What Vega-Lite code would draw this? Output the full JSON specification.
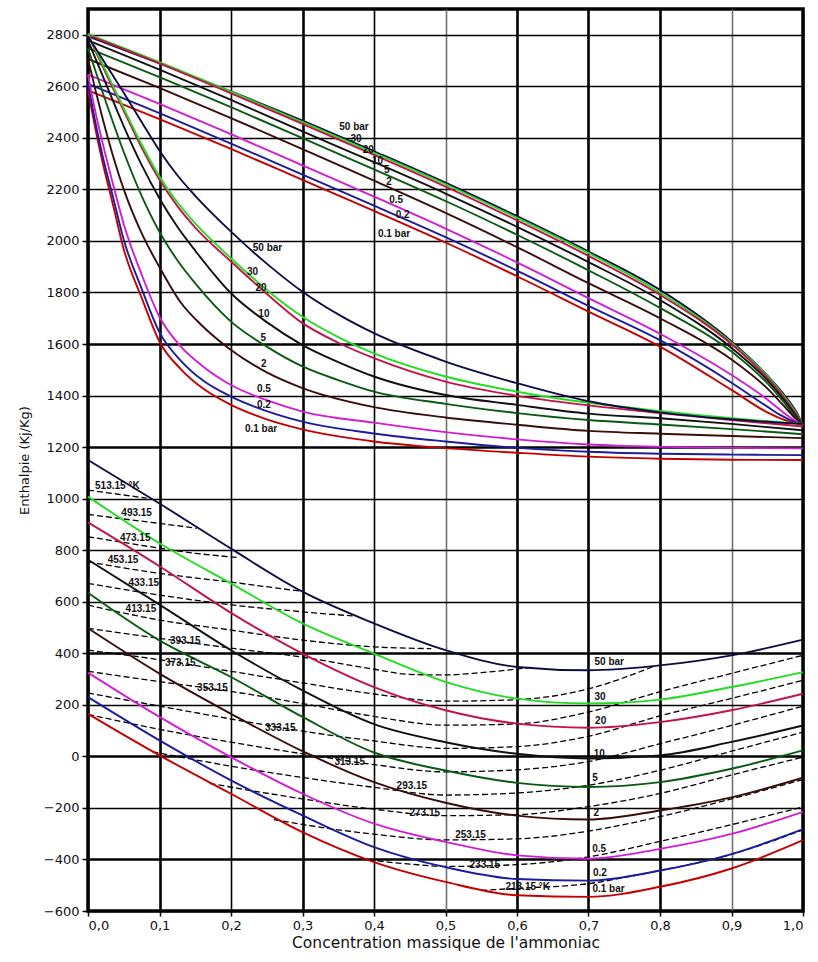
{
"$schema": "https://vega.github.io/schema/vega-lite/v6.json",
"width": 715, "height": 902,
"autosize": {"type": "none"},
"padding": {"left": 88, "top": 9, "right": 15, "bottom": 51},
"background": "white",
"config": {"view": {"stroke": "#000", "strokeWidth": 3.5}, "font": "DejaVu Sans"},
"datasets": {
"curves": [
{"c":"d50","p":"50","x":0,"h":2794},{"c":"d50","p":"50","x":0.1,"h":2689},{"c":"d50","p":"50","x":0.2,"h":2580},{"c":"d50","p":"50","x":0.3,"h":2467},{"c":"d50","p":"50","x":0.4,"h":2348},{"c":"d50","p":"50","x":0.5,"h":2226},{"c":"d50","p":"50","x":0.6,"h":2096},{"c":"d50","p":"50","x":0.7,"h":1959},{"c":"d50","p":"50","x":0.8,"h":1810},{"c":"d50","p":"50","x":0.9,"h":1610},{"c":"d50","p":"50","x":0.95,"h":1478},{"c":"d50","p":"50","x":0.97,"h":1415},{"c":"d50","p":"50","x":0.99,"h":1340},{"c":"d50","p":"50","x":1,"h":1285},
{"c":"d30","p":"30","x":0,"h":2803},{"c":"d30","p":"30","x":0.1,"h":2694},{"c":"d30","p":"30","x":0.2,"h":2579},{"c":"d30","p":"30","x":0.3,"h":2461},{"c":"d30","p":"30","x":0.4,"h":2342},{"c":"d30","p":"30","x":0.5,"h":2220},{"c":"d30","p":"30","x":0.6,"h":2090},{"c":"d30","p":"30","x":0.7,"h":1953},{"c":"d30","p":"30","x":0.8,"h":1800},{"c":"d30","p":"30","x":0.9,"h":1605},{"c":"d30","p":"30","x":0.95,"h":1476},{"c":"d30","p":"30","x":0.97,"h":1410},{"c":"d30","p":"30","x":0.99,"h":1333},{"c":"d30","p":"30","x":1,"h":1285},
{"c":"d20","p":"20","x":0,"h":2799},{"c":"d20","p":"20","x":0.1,"h":2689},{"c":"d20","p":"20","x":0.2,"h":2573},{"c":"d20","p":"20","x":0.3,"h":2454},{"c":"d20","p":"20","x":0.4,"h":2334},{"c":"d20","p":"20","x":0.5,"h":2211},{"c":"d20","p":"20","x":0.6,"h":2080},{"c":"d20","p":"20","x":0.7,"h":1942},{"c":"d20","p":"20","x":0.8,"h":1791},{"c":"d20","p":"20","x":0.9,"h":1600},{"c":"d20","p":"20","x":0.95,"h":1470},{"c":"d20","p":"20","x":0.97,"h":1405},{"c":"d20","p":"20","x":0.99,"h":1328},{"c":"d20","p":"20","x":1,"h":1285},
{"c":"d10","p":"10","x":0,"h":2778},{"c":"d10","p":"10","x":0.1,"h":2665},{"c":"d10","p":"10","x":0.2,"h":2547},{"c":"d10","p":"10","x":0.3,"h":2425},{"c":"d10","p":"10","x":0.4,"h":2306},{"c":"d10","p":"10","x":0.5,"h":2184},{"c":"d10","p":"10","x":0.6,"h":2055},{"c":"d10","p":"10","x":0.7,"h":1918},{"c":"d10","p":"10","x":0.8,"h":1771},{"c":"d10","p":"10","x":0.9,"h":1585},{"c":"d10","p":"10","x":0.95,"h":1460},{"c":"d10","p":"10","x":0.97,"h":1395},{"c":"d10","p":"10","x":0.99,"h":1322},{"c":"d10","p":"10","x":1,"h":1285},
{"c":"d5","p":"5","x":0,"h":2748},{"c":"d5","p":"5","x":0.1,"h":2636},{"c":"d5","p":"5","x":0.2,"h":2519},{"c":"d5","p":"5","x":0.3,"h":2399},{"c":"d5","p":"5","x":0.4,"h":2278},{"c":"d5","p":"5","x":0.5,"h":2155},{"c":"d5","p":"5","x":0.6,"h":2024},{"c":"d5","p":"5","x":0.7,"h":1886},{"c":"d5","p":"5","x":0.8,"h":1740},{"c":"d5","p":"5","x":0.9,"h":1571},{"c":"d5","p":"5","x":0.95,"h":1448},{"c":"d5","p":"5","x":0.97,"h":1385},{"c":"d5","p":"5","x":0.99,"h":1316},{"c":"d5","p":"5","x":1,"h":1285},
{"c":"d2","p":"2","x":0,"h":2706},{"c":"d2","p":"2","x":0.1,"h":2594},{"c":"d2","p":"2","x":0.2,"h":2477},{"c":"d2","p":"2","x":0.3,"h":2356},{"c":"d2","p":"2","x":0.4,"h":2234},{"c":"d2","p":"2","x":0.5,"h":2109},{"c":"d2","p":"2","x":0.6,"h":1976},{"c":"d2","p":"2","x":0.7,"h":1836},{"c":"d2","p":"2","x":0.8,"h":1700},{"c":"d2","p":"2","x":0.9,"h":1540},{"c":"d2","p":"2","x":0.95,"h":1428},{"c":"d2","p":"2","x":0.97,"h":1370},{"c":"d2","p":"2","x":0.99,"h":1310},{"c":"d2","p":"2","x":1,"h":1285},
{"c":"d05","p":"0.5","x":0,"h":2645},{"c":"d05","p":"0.5","x":0.1,"h":2532},{"c":"d05","p":"0.5","x":0.2,"h":2414},{"c":"d05","p":"0.5","x":0.3,"h":2293},{"c":"d05","p":"0.5","x":0.4,"h":2172},{"c":"d05","p":"0.5","x":0.5,"h":2048},{"c":"d05","p":"0.5","x":0.6,"h":1917},{"c":"d05","p":"0.5","x":0.7,"h":1778},{"c":"d05","p":"0.5","x":0.8,"h":1640},{"c":"d05","p":"0.5","x":0.9,"h":1480},{"c":"d05","p":"0.5","x":0.95,"h":1385},{"c":"d05","p":"0.5","x":0.97,"h":1340},{"c":"d05","p":"0.5","x":0.99,"h":1300},{"c":"d05","p":"0.5","x":1,"h":1285},
{"c":"d02","p":"0.2","x":0,"h":2609},{"c":"d02","p":"0.2","x":0.1,"h":2496},{"c":"d02","p":"0.2","x":0.2,"h":2378},{"c":"d02","p":"0.2","x":0.3,"h":2257},{"c":"d02","p":"0.2","x":0.4,"h":2137},{"c":"d02","p":"0.2","x":0.5,"h":2015},{"c":"d02","p":"0.2","x":0.6,"h":1885},{"c":"d02","p":"0.2","x":0.7,"h":1748},{"c":"d02","p":"0.2","x":0.8,"h":1615},{"c":"d02","p":"0.2","x":0.9,"h":1450},{"c":"d02","p":"0.2","x":0.95,"h":1357},{"c":"d02","p":"0.2","x":0.97,"h":1322},{"c":"d02","p":"0.2","x":0.99,"h":1295},{"c":"d02","p":"0.2","x":1,"h":1285},
{"c":"d01","p":"0.1","x":0,"h":2584},{"c":"d01","p":"0.1","x":0.1,"h":2473},{"c":"d01","p":"0.1","x":0.2,"h":2357},{"c":"d01","p":"0.1","x":0.3,"h":2237},{"c":"d01","p":"0.1","x":0.4,"h":2117},{"c":"d01","p":"0.1","x":0.5,"h":1994},{"c":"d01","p":"0.1","x":0.6,"h":1863},{"c":"d01","p":"0.1","x":0.7,"h":1726},{"c":"d01","p":"0.1","x":0.8,"h":1590},{"c":"d01","p":"0.1","x":0.9,"h":1422},{"c":"d01","p":"0.1","x":0.95,"h":1335},{"c":"d01","p":"0.1","x":0.97,"h":1310},{"c":"d01","p":"0.1","x":0.99,"h":1292},{"c":"d01","p":"0.1","x":1,"h":1285},

{"c":"v01","p":"0.1","x":0,"h":2584},{"c":"v01","p":"0.1","x":0.01,"h":2440},{"c":"v01","p":"0.1","x":0.02,"h":2310},{"c":"v01","p":"0.1","x":0.035,"h":2140},{"c":"v01","p":"0.1","x":0.05,"h":1968},{"c":"v01","p":"0.1","x":0.075,"h":1780},{"c":"v01","p":"0.1","x":0.1,"h":1609},{"c":"v01","p":"0.1","x":0.13,"h":1502},{"c":"v01","p":"0.1","x":0.16,"h":1429},{"c":"v01","p":"0.1","x":0.2,"h":1364},{"c":"v01","p":"0.1","x":0.25,"h":1308},{"c":"v01","p":"0.1","x":0.3,"h":1269},{"c":"v01","p":"0.1","x":0.4,"h":1222},{"c":"v01","p":"0.1","x":0.5,"h":1196},{"c":"v01","p":"0.1","x":0.6,"h":1178},{"c":"v01","p":"0.1","x":0.7,"h":1163},{"c":"v01","p":"0.1","x":0.8,"h":1155},{"c":"v01","p":"0.1","x":0.9,"h":1151},{"c":"v01","p":"0.1","x":1,"h":1150},
{"c":"v02","p":"0.2","x":0,"h":2609},{"c":"v02","p":"0.2","x":0.01,"h":2465},{"c":"v02","p":"0.2","x":0.02,"h":2335},{"c":"v02","p":"0.2","x":0.035,"h":2170},{"c":"v02","p":"0.2","x":0.05,"h":2005},{"c":"v02","p":"0.2","x":0.075,"h":1815},{"c":"v02","p":"0.2","x":0.1,"h":1645},{"c":"v02","p":"0.2","x":0.13,"h":1535},{"c":"v02","p":"0.2","x":0.16,"h":1460},{"c":"v02","p":"0.2","x":0.2,"h":1396},{"c":"v02","p":"0.2","x":0.25,"h":1340},{"c":"v02","p":"0.2","x":0.3,"h":1299},{"c":"v02","p":"0.2","x":0.4,"h":1253},{"c":"v02","p":"0.2","x":0.5,"h":1222},{"c":"v02","p":"0.2","x":0.6,"h":1197},{"c":"v02","p":"0.2","x":0.7,"h":1182},{"c":"v02","p":"0.2","x":0.8,"h":1174},{"c":"v02","p":"0.2","x":0.9,"h":1171},{"c":"v02","p":"0.2","x":1,"h":1169},
{"c":"v05","p":"0.5","x":0,"h":2645},{"c":"v05","p":"0.5","x":0.01,"h":2505},{"c":"v05","p":"0.5","x":0.02,"h":2385},{"c":"v05","p":"0.5","x":0.035,"h":2220},{"c":"v05","p":"0.5","x":0.05,"h":2065},{"c":"v05","p":"0.5","x":0.075,"h":1870},{"c":"v05","p":"0.5","x":0.1,"h":1705},{"c":"v05","p":"0.5","x":0.13,"h":1590},{"c":"v05","p":"0.5","x":0.16,"h":1515},{"c":"v05","p":"0.5","x":0.2,"h":1441},{"c":"v05","p":"0.5","x":0.25,"h":1382},{"c":"v05","p":"0.5","x":0.3,"h":1338},{"c":"v05","p":"0.5","x":0.4,"h":1295},{"c":"v05","p":"0.5","x":0.5,"h":1258},{"c":"v05","p":"0.5","x":0.6,"h":1230},{"c":"v05","p":"0.5","x":0.7,"h":1210},{"c":"v05","p":"0.5","x":0.8,"h":1201},{"c":"v05","p":"0.5","x":0.9,"h":1197},{"c":"v05","p":"0.5","x":1,"h":1195},
{"c":"v2","p":"2","x":0,"h":2706},{"c":"v2","p":"2","x":0.01,"h":2590},{"c":"v2","p":"2","x":0.02,"h":2480},{"c":"v2","p":"2","x":0.035,"h":2330},{"c":"v2","p":"2","x":0.05,"h":2200},{"c":"v2","p":"2","x":0.075,"h":2030},{"c":"v2","p":"2","x":0.1,"h":1898},{"c":"v2","p":"2","x":0.13,"h":1760},{"c":"v2","p":"2","x":0.16,"h":1670},{"c":"v2","p":"2","x":0.2,"h":1577},{"c":"v2","p":"2","x":0.25,"h":1490},{"c":"v2","p":"2","x":0.3,"h":1429},{"c":"v2","p":"2","x":0.4,"h":1355},{"c":"v2","p":"2","x":0.5,"h":1315},{"c":"v2","p":"2","x":0.6,"h":1287},{"c":"v2","p":"2","x":0.7,"h":1263},{"c":"v2","p":"2","x":0.8,"h":1252},{"c":"v2","p":"2","x":0.9,"h":1243},{"c":"v2","p":"2","x":1,"h":1235},
{"c":"v5","p":"5","x":0,"h":2748},{"c":"v5","p":"5","x":0.025,"h":2540},{"c":"v5","p":"5","x":0.05,"h":2345},{"c":"v5","p":"5","x":0.075,"h":2175},{"c":"v5","p":"5","x":0.1,"h":2035},{"c":"v5","p":"5","x":0.125,"h":1925},{"c":"v5","p":"5","x":0.15,"h":1835},{"c":"v5","p":"5","x":0.2,"h":1687},{"c":"v5","p":"5","x":0.25,"h":1590},{"c":"v5","p":"5","x":0.3,"h":1513},{"c":"v5","p":"5","x":0.35,"h":1460},{"c":"v5","p":"5","x":0.4,"h":1415},{"c":"v5","p":"5","x":0.5,"h":1368},{"c":"v5","p":"5","x":0.6,"h":1332},{"c":"v5","p":"5","x":0.7,"h":1305},{"c":"v5","p":"5","x":0.8,"h":1288},{"c":"v5","p":"5","x":0.9,"h":1270},{"c":"v5","p":"5","x":1,"h":1250},
{"c":"v10","p":"10","x":0,"h":2778},{"c":"v10","p":"10","x":0.025,"h":2610},{"c":"v10","p":"10","x":0.05,"h":2445},{"c":"v10","p":"10","x":0.075,"h":2295},{"c":"v10","p":"10","x":0.1,"h":2165},{"c":"v10","p":"10","x":0.125,"h":2055},{"c":"v10","p":"10","x":0.15,"h":1962},{"c":"v10","p":"10","x":0.2,"h":1797},{"c":"v10","p":"10","x":0.25,"h":1685},{"c":"v10","p":"10","x":0.3,"h":1596},{"c":"v10","p":"10","x":0.35,"h":1530},{"c":"v10","p":"10","x":0.4,"h":1474},{"c":"v10","p":"10","x":0.5,"h":1402},{"c":"v10","p":"10","x":0.6,"h":1364},{"c":"v10","p":"10","x":0.7,"h":1330},{"c":"v10","p":"10","x":0.8,"h":1312},{"c":"v10","p":"10","x":0.9,"h":1290},{"c":"v10","p":"10","x":1,"h":1265},
{"c":"v20","p":"20","x":0,"h":2799},{"c":"v20","p":"20","x":0.025,"h":2650},{"c":"v20","p":"20","x":0.05,"h":2505},{"c":"v20","p":"20","x":0.075,"h":2362},{"c":"v20","p":"20","x":0.1,"h":2237},{"c":"v20","p":"20","x":0.125,"h":2135},{"c":"v20","p":"20","x":0.15,"h":2052},{"c":"v20","p":"20","x":0.2,"h":1920},{"c":"v20","p":"20","x":0.25,"h":1795},{"c":"v20","p":"20","x":0.3,"h":1681},{"c":"v20","p":"20","x":0.35,"h":1605},{"c":"v20","p":"20","x":0.4,"h":1545},{"c":"v20","p":"20","x":0.5,"h":1454},{"c":"v20","p":"20","x":0.6,"h":1399},{"c":"v20","p":"20","x":0.7,"h":1362},{"c":"v20","p":"20","x":0.8,"h":1332},{"c":"v20","p":"20","x":0.9,"h":1305},{"c":"v20","p":"20","x":1,"h":1280},
{"c":"v30","p":"30","x":0,"h":2803},{"c":"v30","p":"30","x":0.025,"h":2660},{"c":"v30","p":"30","x":0.05,"h":2515},{"c":"v30","p":"30","x":0.075,"h":2375},{"c":"v30","p":"30","x":0.1,"h":2250},{"c":"v30","p":"30","x":0.125,"h":2150},{"c":"v30","p":"30","x":0.15,"h":2068},{"c":"v30","p":"30","x":0.2,"h":1933},{"c":"v30","p":"30","x":0.25,"h":1810},{"c":"v30","p":"30","x":0.3,"h":1706},{"c":"v30","p":"30","x":0.35,"h":1627},{"c":"v30","p":"30","x":0.4,"h":1564},{"c":"v30","p":"30","x":0.5,"h":1474},{"c":"v30","p":"30","x":0.6,"h":1415},{"c":"v30","p":"30","x":0.7,"h":1372},{"c":"v30","p":"30","x":0.8,"h":1340},{"c":"v30","p":"30","x":0.9,"h":1312},{"c":"v30","p":"30","x":1,"h":1290},
{"c":"v50","p":"50","x":0,"h":2794},{"c":"v50","p":"50","x":0.025,"h":2685},{"c":"v50","p":"50","x":0.05,"h":2575},{"c":"v50","p":"50","x":0.075,"h":2462},{"c":"v50","p":"50","x":0.1,"h":2350},{"c":"v50","p":"50","x":0.125,"h":2255},{"c":"v50","p":"50","x":0.15,"h":2175},{"c":"v50","p":"50","x":0.2,"h":2036},{"c":"v50","p":"50","x":0.25,"h":1912},{"c":"v50","p":"50","x":0.3,"h":1803},{"c":"v50","p":"50","x":0.35,"h":1715},{"c":"v50","p":"50","x":0.4,"h":1642},{"c":"v50","p":"50","x":0.5,"h":1532},{"c":"v50","p":"50","x":0.6,"h":1448},{"c":"v50","p":"50","x":0.7,"h":1378},{"c":"v50","p":"50","x":0.8,"h":1335},{"c":"v50","p":"50","x":0.9,"h":1308},{"c":"v50","p":"50","x":1,"h":1290},

{"c":"l50","p":"50","x":0,"h":1150},{"c":"l50","p":"50","x":0.1,"h":981},{"c":"l50","p":"50","x":0.2,"h":806},{"c":"l50","p":"50","x":0.3,"h":639},{"c":"l50","p":"50","x":0.4,"h":516},{"c":"l50","p":"50","x":0.5,"h":412},{"c":"l50","p":"50","x":0.6,"h":347},{"c":"l50","p":"50","x":0.7,"h":334},{"c":"l50","p":"50","x":0.8,"h":353},{"c":"l50","p":"50","x":0.9,"h":392},{"c":"l50","p":"50","x":1,"h":453},
{"c":"l30","p":"30","x":0,"h":1008},{"c":"l30","p":"30","x":0.1,"h":827},{"c":"l30","p":"30","x":0.2,"h":671},{"c":"l30","p":"30","x":0.3,"h":516},{"c":"l30","p":"30","x":0.4,"h":399},{"c":"l30","p":"30","x":0.5,"h":289},{"c":"l30","p":"30","x":0.6,"h":224},{"c":"l30","p":"30","x":0.7,"h":205},{"c":"l30","p":"30","x":0.8,"h":220},{"c":"l30","p":"30","x":0.9,"h":269},{"c":"l30","p":"30","x":1,"h":327},
{"c":"l20","p":"20","x":0,"h":908},{"c":"l20","p":"20","x":0.1,"h":738},{"c":"l20","p":"20","x":0.2,"h":557},{"c":"l20","p":"20","x":0.3,"h":399},{"c":"l20","p":"20","x":0.4,"h":269},{"c":"l20","p":"20","x":0.5,"h":179},{"c":"l20","p":"20","x":0.6,"h":127},{"c":"l20","p":"20","x":0.7,"h":111},{"c":"l20","p":"20","x":0.8,"h":133},{"c":"l20","p":"20","x":0.9,"h":179},{"c":"l20","p":"20","x":1,"h":243},
{"c":"l10","p":"10","x":0,"h":763},{"c":"l10","p":"10","x":0.1,"h":589},{"c":"l10","p":"10","x":0.2,"h":412},{"c":"l10","p":"10","x":0.3,"h":256},{"c":"l10","p":"10","x":0.4,"h":125},{"c":"l10","p":"10","x":0.5,"h":55},{"c":"l10","p":"10","x":0.6,"h":10},{"c":"l10","p":"10","x":0.7,"h":-8},{"c":"l10","p":"10","x":0.8,"h":4},{"c":"l10","p":"10","x":0.9,"h":56},{"c":"l10","p":"10","x":1,"h":120},
{"c":"l5","p":"5","x":0,"h":635},{"c":"l5","p":"5","x":0.1,"h":450},{"c":"l5","p":"5","x":0.2,"h":308},{"c":"l5","p":"5","x":0.3,"h":153},{"c":"l5","p":"5","x":0.4,"h":15},{"c":"l5","p":"5","x":0.5,"h":-55},{"c":"l5","p":"5","x":0.6,"h":-103},{"c":"l5","p":"5","x":0.7,"h":-119},{"c":"l5","p":"5","x":0.8,"h":-100},{"c":"l5","p":"5","x":0.9,"h":-48},{"c":"l5","p":"5","x":1,"h":23},
{"c":"l2","p":"2","x":0,"h":497},{"c":"l2","p":"2","x":0.1,"h":321},{"c":"l2","p":"2","x":0.2,"h":165},{"c":"l2","p":"2","x":0.3,"h":20},{"c":"l2","p":"2","x":0.4,"h":-100},{"c":"l2","p":"2","x":0.5,"h":-180},{"c":"l2","p":"2","x":0.6,"h":-230},{"c":"l2","p":"2","x":0.7,"h":-245},{"c":"l2","p":"2","x":0.8,"h":-210},{"c":"l2","p":"2","x":0.9,"h":-159},{"c":"l2","p":"2","x":1,"h":-83},
{"c":"l05","p":"0.5","x":0,"h":325},{"c":"l05","p":"0.5","x":0.1,"h":153},{"c":"l05","p":"0.5","x":0.2,"h":-3},{"c":"l05","p":"0.5","x":0.3,"h":-145},{"c":"l05","p":"0.5","x":0.4,"h":-261},{"c":"l05","p":"0.5","x":0.5,"h":-332},{"c":"l05","p":"0.5","x":0.6,"h":-384},{"c":"l05","p":"0.5","x":0.7,"h":-397},{"c":"l05","p":"0.5","x":0.8,"h":-359},{"c":"l05","p":"0.5","x":0.9,"h":-301},{"c":"l05","p":"0.5","x":1,"h":-215},
{"c":"l02","p":"0.2","x":0,"h":230},{"c":"l02","p":"0.2","x":0.1,"h":62},{"c":"l02","p":"0.2","x":0.2,"h":-93},{"c":"l02","p":"0.2","x":0.3,"h":-229},{"c":"l02","p":"0.2","x":0.4,"h":-352},{"c":"l02","p":"0.2","x":0.5,"h":-430},{"c":"l02","p":"0.2","x":0.6,"h":-476},{"c":"l02","p":"0.2","x":0.7,"h":-482},{"c":"l02","p":"0.2","x":0.8,"h":-443},{"c":"l02","p":"0.2","x":0.9,"h":-379},{"c":"l02","p":"0.2","x":1,"h":-282},
{"c":"l01","p":"0.1","x":0,"h":165},{"c":"l01","p":"0.1","x":0.1,"h":4},{"c":"l01","p":"0.1","x":0.2,"h":-145},{"c":"l01","p":"0.1","x":0.3,"h":-294},{"c":"l01","p":"0.1","x":0.4,"h":-410},{"c":"l01","p":"0.1","x":0.5,"h":-487},{"c":"l01","p":"0.1","x":0.6,"h":-539},{"c":"l01","p":"0.1","x":0.7,"h":-545},{"c":"l01","p":"0.1","x":0.8,"h":-506},{"c":"l01","p":"0.1","x":0.9,"h":-435},{"c":"l01","p":"0.1","x":1,"h":-325}
],
"iso": [
{"t":"513","x":0,"h":1033},{"t":"513","x":0.04,"h":1018},{"t":"513","x":0.082,"h":1002},
{"t":"493","x":0,"h":939},{"t":"493","x":0.05,"h":921},{"t":"493","x":0.1,"h":904},{"t":"493","x":0.152,"h":885},
{"t":"473","x":0,"h":852},{"t":"473","x":0.05,"h":830},{"t":"473","x":0.1,"h":808},{"t":"473","x":0.15,"h":788},{"t":"473","x":0.21,"h":772},
{"t":"453","x":0,"h":755},{"t":"453","x":0.1,"h":710},{"t":"453","x":0.2,"h":676},{"t":"453","x":0.3,"h":640},
{"t":"433","x":0,"h":671},{"t":"433","x":0.1,"h":626},{"t":"433","x":0.2,"h":588},{"t":"433","x":0.3,"h":561},{"t":"433","x":0.37,"h":545},
{"t":"413","x":0,"h":587},{"t":"413","x":0.1,"h":529},{"t":"413","x":0.2,"h":490},{"t":"413","x":0.3,"h":451},{"t":"413","x":0.4,"h":425},{"t":"413","x":0.48,"h":418},
{"t":"393","x":0,"h":497},{"t":"393","x":0.1,"h":458},{"t":"393","x":0.2,"h":420},{"t":"393","x":0.3,"h":385},{"t":"393","x":0.4,"h":338},{"t":"393","x":0.45,"h":318},{"t":"393","x":0.5,"h":316},{"t":"393","x":0.55,"h":325},{"t":"393","x":0.62,"h":345},
{"t":"373","x":0,"h":412},{"t":"373","x":0.1,"h":375},{"t":"373","x":0.2,"h":330},{"t":"373","x":0.3,"h":285},{"t":"373","x":0.4,"h":242},{"t":"373","x":0.5,"h":214},{"t":"373","x":0.6,"h":220},{"t":"373","x":0.7,"h":262},{"t":"373","x":0.79,"h":348},
{"t":"353","x":0,"h":330},{"t":"353","x":0.1,"h":290},{"t":"353","x":0.2,"h":252},{"t":"353","x":0.3,"h":205},{"t":"353","x":0.4,"h":155},{"t":"353","x":0.5,"h":121},{"t":"353","x":0.6,"h":126},{"t":"353","x":0.7,"h":172},{"t":"353","x":0.8,"h":251},{"t":"353","x":0.9,"h":322},{"t":"353","x":1,"h":392},
{"t":"333","x":0,"h":246},{"t":"333","x":0.1,"h":195},{"t":"333","x":0.2,"h":145},{"t":"333","x":0.3,"h":98},{"t":"333","x":0.4,"h":60},{"t":"333","x":0.5,"h":31},{"t":"333","x":0.6,"h":38},{"t":"333","x":0.7,"h":78},{"t":"333","x":0.8,"h":157},{"t":"333","x":0.9,"h":225},{"t":"333","x":1,"h":295},
{"t":"313","x":0,"h":163},{"t":"313","x":0.1,"h":105},{"t":"313","x":0.2,"h":55},{"t":"313","x":0.3,"h":10},{"t":"313","x":0.4,"h":-32},{"t":"313","x":0.5,"h":-60},{"t":"313","x":0.6,"h":-52},{"t":"313","x":0.7,"h":-20},{"t":"313","x":0.8,"h":49},{"t":"313","x":0.9,"h":120},{"t":"313","x":1,"h":195},
{"t":"293","x":0.09,"h":18},{"t":"293","x":0.2,"h":-38},{"t":"293","x":0.3,"h":-82},{"t":"293","x":0.4,"h":-120},{"t":"293","x":0.5,"h":-150},{"t":"293","x":0.6,"h":-142},{"t":"293","x":0.7,"h":-112},{"t":"293","x":0.8,"h":-54},{"t":"293","x":0.9,"h":20},{"t":"293","x":1,"h":94},
{"t":"273","x":0.17,"h":-105},{"t":"273","x":0.3,"h":-165},{"t":"273","x":0.4,"h":-205},{"t":"273","x":0.5,"h":-230},{"t":"273","x":0.6,"h":-226},{"t":"273","x":0.7,"h":-195},{"t":"273","x":0.8,"h":-144},{"t":"273","x":0.9,"h":-72},{"t":"273","x":1,"h":-3},
{"t":"253","x":0.26,"h":-245},{"t":"253","x":0.35,"h":-285},{"t":"253","x":0.4,"h":-302},{"t":"253","x":0.5,"h":-324},{"t":"253","x":0.6,"h":-320},{"t":"253","x":0.7,"h":-290},{"t":"253","x":0.8,"h":-234},{"t":"253","x":0.9,"h":-165},{"t":"253","x":1,"h":-90},
{"t":"233","x":0.38,"h":-398},{"t":"233","x":0.45,"h":-418},{"t":"233","x":0.5,"h":-427},{"t":"233","x":0.6,"h":-420},{"t":"233","x":0.7,"h":-390},{"t":"233","x":0.8,"h":-330},{"t":"233","x":0.9,"h":-265},{"t":"233","x":1,"h":-196},
{"t":"213","x":0.55,"h":-520},{"t":"213","x":0.6,"h":-512},{"t":"213","x":0.7,"h":-494},{"t":"213","x":0.75,"h":-470},{"t":"213","x":0.8,"h":-443},{"t":"213","x":0.9,"h":-380},{"t":"213","x":1,"h":-285}
],
"labels": [
{"x":0.372,"h":2442,"txt":"50 bar"},{"x":0.375,"h":2394,"txt":"30"},{"x":0.392,"h":2354,"txt":"20"},{"x":0.405,"h":2312,"txt":"10"},{"x":0.418,"h":2274,"txt":"5"},{"x":0.421,"h":2227,"txt":"2"},{"x":0.431,"h":2160,"txt":"0.5"},{"x":0.44,"h":2101,"txt":"0.2"},{"x":0.428,"h":2026,"txt":"0.1 bar"},
{"x":0.251,"h":1972,"txt":"50 bar"},{"x":0.23,"h":1881,"txt":"30"},{"x":0.242,"h":1817,"txt":"20"},{"x":0.246,"h":1716,"txt":"10"},{"x":0.245,"h":1625,"txt":"5"},{"x":0.246,"h":1522,"txt":"2"},{"x":0.246,"h":1425,"txt":"0.5"},{"x":0.246,"h":1364,"txt":"0.2"},{"x":0.242,"h":1270,"txt":"0.1 bar"},
{"x":0.729,"h":367,"txt":"50 bar"},{"x":0.716,"h":229,"txt":"30"},{"x":0.717,"h":138,"txt":"20"},{"x":0.715,"h":10,"txt":"10"},{"x":0.709,"h":-85,"txt":"5"},{"x":0.711,"h":-219,"txt":"2"},{"x":0.715,"h":-361,"txt":"0.5"},{"x":0.716,"h":-454,"txt":"0.2"},{"x":0.728,"h":-516,"txt":"0.1 bar"},
{"x":0.041,"h":1050,"txt":"513.15 °K"},{"x":0.068,"h":944,"txt":"493.15"},{"x":0.066,"h":846,"txt":"473.15"},{"x":0.049,"h":762,"txt":"453.15"},{"x":0.078,"h":671,"txt":"433.15"},{"x":0.074,"h":571,"txt":"413.15"},{"x":0.136,"h":449,"txt":"393.15"},{"x":0.129,"h":363,"txt":"373.15"},{"x":0.174,"h":264,"txt":"353.15"},{"x":0.269,"h":112,"txt":"333.15"},{"x":0.366,"h":-22,"txt":"313.15"},{"x":0.453,"h":-115,"txt":"293.15"},{"x":0.471,"h":-221,"txt":"273.15"},{"x":0.535,"h":-306,"txt":"253.15"},{"x":0.555,"h":-422,"txt":"233.15"},{"x":0.615,"h":-506,"txt":"213.15 °K"}
]
},
"encoding": {
 "x": {"field": "x", "type": "quantitative",
   "scale": {"domain": [0, 1], "nice": false, "zero": false},
   "axis": {"values": [0,0.1,0.2,0.3,0.4,0.5,0.6,0.7,0.8,0.9,1],
     "labelExpr": "replace(format(datum.value, '.1f'), '.', ',')",
     "domain": false, "grid": true,
     "gridColor": {"condition": {"test": "abs(datum.value-0.5)<0.01 || abs(datum.value-0.9)<0.01", "value": "#707070"}, "value": "#000000"},
     "gridWidth": {"condition": {"test": "abs(datum.value-0.1)<0.01 || abs(datum.value-0.3)<0.01 || abs(datum.value-0.6)<0.01 || abs(datum.value-0.7)<0.01 || abs(datum.value-0.8)<0.01", "value": 2.6}, "value": 1.6},
     "gridOpacity": 1, "tickColor": "#000", "tickSize": 5, "tickWidth": 1.5,
     "labelFont": "DejaVu Sans", "labelFontSize": 13, "labelColor": "#111", "labelPadding": 3,
     "title": "Concentration massique de l'ammoniac", "titleFont": "DejaVu Sans", "titleFontSize": 15.5, "titleFontWeight": "normal", "titleColor": "#111", "titlePadding": 3}},
 "y": {"field": "h", "type": "quantitative",
   "scale": {"domain": [-600, 2900], "nice": false, "zero": false},
   "axis": {"values": [-600,-400,-200,0,200,400,600,800,1000,1200,1400,1600,1800,2000,2200,2400,2600,2800],
     "format": "d", "domain": false, "grid": true,
     "gridColor": "#000000",
     "gridWidth": {"condition": {"test": "datum.value==0 || datum.value==400 || datum.value==-400 || datum.value==1600 || datum.value==1200", "value": 2.4}, "value": 1.5},
     "gridOpacity": 1, "tickColor": "#000", "tickSize": 6, "tickWidth": 1.5,
     "labelFont": "DejaVu Sans", "labelFontSize": 13, "labelColor": "#111", "labelPadding": 3,
     "title": "Enthalpie (Kj/Kg)", "titleFont": "DejaVu Sans", "titleFontSize": 13, "titleFontWeight": "normal", "titleColor": "#111", "titlePadding": 12}}
},
"layer": [
 {"data": {"name": "iso"},
  "mark": {"type": "line", "interpolate": "monotone", "strokeDash": [6, 3], "strokeWidth": 1.3, "color": "#000"},
  "encoding": {"detail": {"field": "t", "type": "nominal"}}},
 {"data": {"name": "curves"},
  "mark": {"type": "line", "interpolate": "monotone", "strokeWidth": 1.9},
  "encoding": {
    "color": {"field": "p", "type": "nominal",
      "scale": {"domain": ["0.1","0.2","0.5","2","5","10","20","30","50"],
                "range": ["#c40000","#1c1c9c","#d21ed2","#3a0d0d","#0b5a12","#111111","#c4124a","#22dd22","#0e0e45"]},
      "legend": null},
    "detail": {"field": "c", "type": "nominal"}}},
 {"data": {"name": "labels"},
  "mark": {"type": "text", "font": "Liberation Sans", "fontSize": 10, "fontWeight": "bold", "color": "#111"},
  "encoding": {"text": {"field": "txt", "type": "nominal"}}}
]
}
